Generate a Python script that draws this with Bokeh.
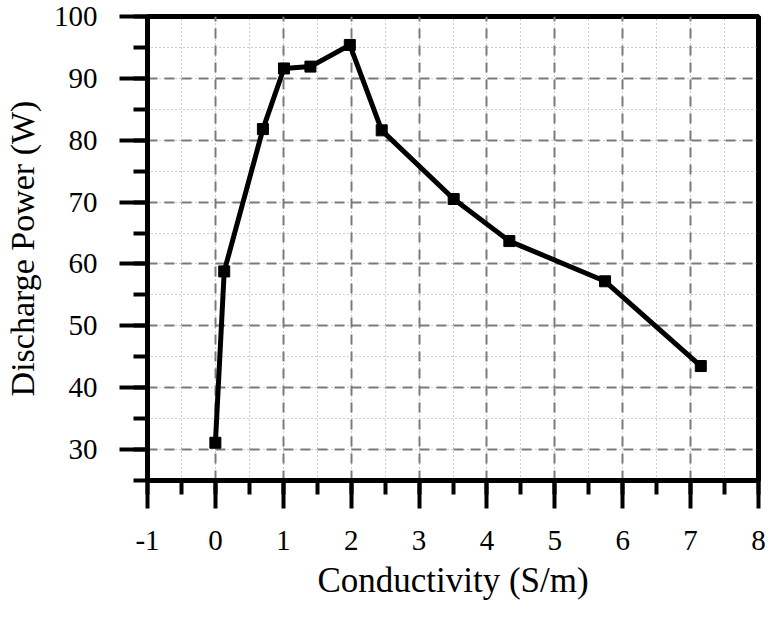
from bokeh.plotting import figure
from bokeh.models import SingleIntervalTicker, Range1d, PrintfTickFormatter
from bokeh.embed import file_html
from bokeh.resources import INLINE

conductivity = [0.0, 0.13, 0.70, 1.01, 1.40, 1.98, 2.45, 3.51, 4.33, 5.74, 7.15]
discharge_power = [31.1, 58.8, 81.8, 91.6, 91.9, 95.4, 81.6, 70.5, 63.7, 57.2, 43.5]

x_label = "Conductivity (S/m)"
y_label = "Discharge Power (W)"

FONT = "Liberation Serif"

p = figure(width=766, height=603, output_backend="svg", toolbar_location=None,
           x_range=Range1d(-1, 8), y_range=Range1d(25, 100),
           min_border_left=144, min_border_right=8, min_border_top=16, min_border_bottom=123)

p.background_fill_color = "white"
p.border_fill_color = "white"
p.outline_line_color = "black"
p.outline_line_width = 5
p.outline_line_alpha = 1

p.xaxis.ticker = SingleIntervalTicker(interval=1, num_minor_ticks=2)
p.yaxis.ticker = SingleIntervalTicker(interval=10, num_minor_ticks=2)
p.xaxis.formatter = PrintfTickFormatter(format="%d")
p.yaxis.formatter = PrintfTickFormatter(format="%d")

for ax in (p.xaxis[0], p.yaxis[0]):
    ax.axis_line_color = "black"
    ax.axis_line_width = 5
    ax.major_tick_line_color = "black"
    ax.major_tick_line_width = 4
    ax.major_tick_out = 28
    ax.major_tick_in = 0
    ax.minor_tick_line_color = "black"
    ax.minor_tick_line_width = 4
    ax.minor_tick_out = 14
    ax.minor_tick_in = 0
    ax.major_label_text_font = FONT
    ax.major_label_text_font_size = "29px"
    ax.major_label_text_color = "black"
    ax.axis_label_text_font = FONT
    ax.axis_label_text_font_style = "normal"
    ax.axis_label_text_color = "black"

p.xaxis.axis_label = x_label
p.yaxis.axis_label = y_label
p.xaxis.axis_label_text_font_size = "35px"
p.yaxis.axis_label_text_font_size = "34px"
p.xaxis.major_label_standoff = 22
p.xaxis.axis_label_standoff = 8
p.yaxis.major_label_standoff = 22
p.yaxis.axis_label_standoff = 10

for g in (p.xgrid[0], p.ygrid[0]):
    g.grid_line_color = "#7a7a7a"
    g.grid_line_width = 2
    g.grid_line_dash = "10 7"
    g.minor_grid_line_color = "#9a9a9a"
    g.minor_grid_line_width = 1
    g.minor_grid_line_dash = "1 3"

p.line(conductivity, discharge_power, line_color="black", line_width=5)
p.scatter(conductivity, discharge_power, marker="square", size=11,
          fill_color="black", line_color="black")

open("out.html", "w").write(file_html(p, INLINE))
